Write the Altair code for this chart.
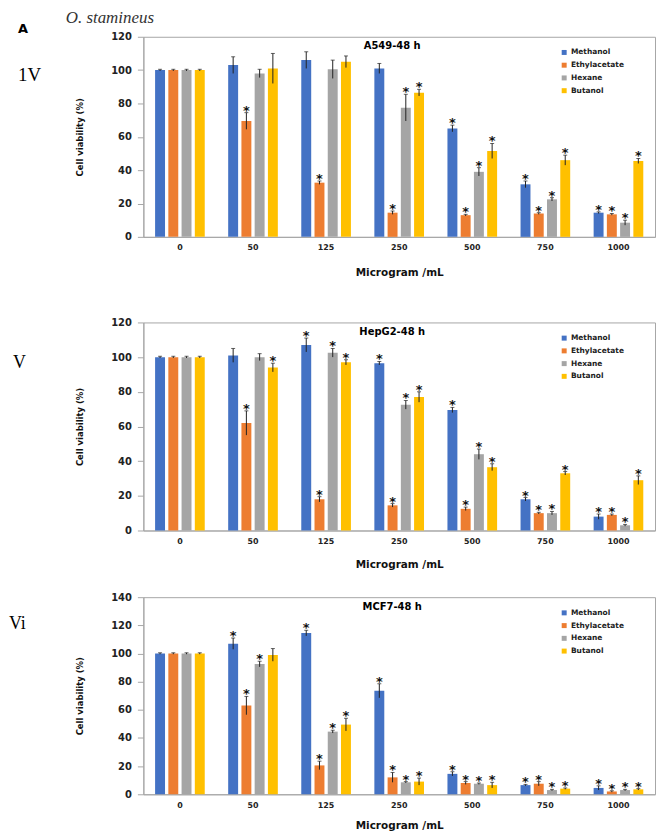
import altair as alt
import pandas as pd

concs = ["0", "50", "125", "250", "500", "750", "1000"]
solvents = ["Methanol", "Ethylacetate", "Hexane", "Butanol"]
colors = ["#4472C4", "#ED7D31", "#A5A5A5", "#FFC000"]

# ---- A549-48 h ----
a549_methanol = [100, 103, 106, 101, 65, 31.5, 14.5]
a549_ethyl = [100, 69.5, 32.5, 14.5, 13, 14, 13.5]
a549_hexane = [100, 98, 100.5, 77.5, 39, 22.5, 8.5]
a549_butanol = [100, 101, 105, 86.5, 51.5, 46, 45.5]
a549_err_methanol = [0.5, 5, 5, 3, 2, 2, 0.5]
a549_err_ethyl = [0.5, 5, 1, 1, 0.5, 0.5, 0.5]
a549_err_hexane = [0.5, 2.5, 5.5, 8, 2.5, 1, 1.5]
a549_err_butanol = [0.5, 9, 3.5, 2, 4.5, 3, 1.5]
a549_star_methanol = [0, 0, 0, 0, 1, 1, 1]
a549_star_ethyl = [0, 1, 1, 1, 1, 1, 1]
a549_star_hexane = [0, 0, 0, 1, 1, 1, 1]
a549_star_butanol = [0, 0, 0, 1, 1, 1, 1]

# ---- HepG2-48 h ----
hepg2_methanol = [100, 101, 107, 96.5, 69.5, 18, 8]
hepg2_ethyl = [100, 62, 18, 14.5, 12.5, 10, 9]
hepg2_hexane = [100, 100, 102.5, 72.5, 44, 10, 3]
hepg2_butanol = [100, 94, 97, 77, 36.5, 33, 29]
hepg2_err_methanol = [0.5, 4, 4, 1, 1.5, 1, 1.5]
hepg2_err_ethyl = [0.5, 7, 1.5, 1, 1, 0.5, 0.5]
hepg2_err_hexane = [0.5, 2, 2.5, 2.5, 3, 1, 0.5]
hepg2_err_butanol = [0.5, 2.5, 1.5, 3, 2, 1, 2.5]
hepg2_star_methanol = [0, 0, 1, 1, 1, 1, 1]
hepg2_star_ethyl = [0, 1, 1, 1, 1, 1, 1]
hepg2_star_hexane = [0, 0, 1, 1, 1, 1, 1]
hepg2_star_butanol = [0, 1, 1, 1, 1, 1, 1]

# ---- MCF7-48 h ----
mcf7_methanol = [100, 107, 114.5, 73.5, 14.5, 6.5, 4.5]
mcf7_ethyl = [100, 63, 20.5, 12, 8, 7.5, 2]
mcf7_hexane = [100, 92.5, 44.5, 8.5, 7.5, 3, 3]
mcf7_butanol = [100, 99, 49.5, 9, 6.5, 4, 3.5]
mcf7_err_methanol = [0.5, 4, 2, 5, 1.5, 0.5, 1.5]
mcf7_err_ethyl = [0.5, 6.5, 3, 3.5, 1, 1.5, 0.5]
mcf7_err_hexane = [0.5, 2, 1, 0.5, 0.5, 0.5, 0.5]
mcf7_err_butanol = [0.5, 4.5, 4.5, 2.5, 2, 0.5, 0.5]
mcf7_star_methanol = [0, 1, 1, 1, 1, 1, 1]
mcf7_star_ethyl = [0, 1, 1, 1, 1, 1, 1]
mcf7_star_hexane = [0, 1, 1, 1, 1, 1, 1]
mcf7_star_butanol = [0, 0, 1, 1, 1, 1, 1]

GRAY = "#a6a6a6"
SANS = "DejaVu Sans"
SERIF = "Liberation Serif"
W = 514


def make_df(means, errs, stars):
    rows = []
    for s, m, e, st in zip(solvents, means, errs, stars):
        for c, v, ee, ss in zip(concs, m, e, st):
            rows.append({"conc": c, "solvent": s, "value": v,
                         "lo": v - ee, "hi": v + ee, "star": ss})
    return pd.DataFrame(rows)


def txt(t, x, y, size, font=SANS, weight="normal", style="normal",
        align="left", baseline="middle", color="#000"):
    return alt.Chart(pd.DataFrame({"t": [t]})).mark_text(
        font=font, fontSize=size, fontWeight=weight, fontStyle=style,
        align=align, baseline=baseline, color=color
    ).encode(text="t:N", x=alt.value(x), y=alt.value(y))


def panel(df, title, ymax, height, extras, xtitle_pad=14, bottom_ext=None,
          title_y=10):
    xenc = alt.X("conc:N", sort=concs,
                 scale=alt.Scale(paddingInner=0, paddingOuter=0),
                 axis=alt.Axis(title="Microgram /mL", labelAngle=0, ticks=False,
                               tickSize=0, labelPadding=7, labelFont=SANS,
                               labelFontSize=8, labelFontWeight="bold",
                               labelColor="#222", titleFont=SANS,
                               titleFontSize=10.5, titleFontWeight="bold",
                               titleColor="#111", titlePadding=xtitle_pad,
                               domainColor=GRAY))
    xoff = alt.XOffset("solvent:N", sort=solvents,
                       scale=alt.Scale(paddingInner=0.25, paddingOuter=0.885))
    yscale = alt.Scale(domain=[0, ymax], nice=False)
    yaxis = alt.Axis(title="Cell viability (%)",
                     values=list(range(0, ymax + 1, 20)), grid=False,
                     tickSize=6, tickColor=GRAY, domainColor=GRAY,
                     labelPadding=6, labelFont=SANS, labelFontSize=10,
                     labelFontWeight="bold", labelColor="#222",
                     titleFont=SANS, titleFontSize=8.5,
                     titleFontWeight="bold", titleColor="#111",
                     titlePadding=26)
    base = alt.Chart(df).encode(x=xenc, xOffset=xoff)
    bars = base.mark_bar().encode(
        y=alt.Y("value:Q", scale=yscale, axis=yaxis),
        color=alt.Color("solvent:N", sort=solvents,
                        scale=alt.Scale(domain=solvents, range=colors),
                        legend=alt.Legend(title=None, orient="none",
                                          legendX=419, legendY=12,
                                          symbolType="square", symbolSize=25,
                                          symbolStrokeWidth=0,
                                          labelFont=SANS, labelFontSize=7.5,
                                          labelFontWeight="bold",
                                          labelColor="#222", rowPadding=3.8,
                                          labelOffset=3)),
    )
    err = base.mark_rule(color="#222", strokeWidth=1).encode(
        y=alt.Y("lo:Q", scale=yscale, axis=yaxis), y2="hi:Q")
    cap = base.mark_tick(color="#222", thickness=1, size=4).encode(
        y=alt.Y("hi:Q", scale=yscale, axis=yaxis))
    stars = base.transform_filter("datum.star == 1").mark_text(
        text="*", font=SANS, fontSize=13, fontWeight="bold", color="#111",
        baseline="alphabetic", dy=2
    ).encode(y=alt.Y("hi:Q", scale=yscale, axis=yaxis))
    layers = [bars, err, cap, stars,
              txt(title, 250, title_y, 10, weight="bold", align="center")]
    layers += extras
    if bottom_ext is not None:
        layers.append(alt.Chart(pd.DataFrame({"t": [0]})).mark_rule(
            strokeOpacity=0).encode(x=alt.value(0), x2=alt.value(1),
                                    y=alt.value(bottom_ext),
                                    y2=alt.value(bottom_ext)))
    return alt.layer(*layers).properties(width=W, height=height)


p1 = panel(make_df([a549_methanol, a549_ethyl, a549_hexane, a549_butanol],
                   [a549_err_methanol, a549_err_ethyl, a549_err_hexane, a549_err_butanol],
                   [a549_star_methanol, a549_star_ethyl, a549_star_hexane, a549_star_butanol]),
           "A549-48 h", 120, 201,
           [txt("O. stamineus", -78, -27, 17, font=SERIF, style="italic",
                baseline="top", color="#333"),
            txt("A", -126, -8, 13, weight="bold"),
            txt("1V", -126, 38, 19, font=SERIF)],
           xtitle_pad=16, bottom_ext=259, title_y=9)
p2 = panel(make_df([hepg2_methanol, hepg2_ethyl, hepg2_hexane, hepg2_butanol],
                   [hepg2_err_methanol, hepg2_err_ethyl, hepg2_err_hexane, hepg2_err_butanol],
                   [hepg2_star_methanol, hepg2_star_ethyl, hepg2_star_hexane, hepg2_star_butanol]),
           "HepG2-48 h", 120, 209,
           [txt("V", -131, 41, 18, font=SERIF)])
p3 = panel(make_df([mcf7_methanol, mcf7_ethyl, mcf7_hexane, mcf7_butanol],
                   [mcf7_err_methanol, mcf7_err_ethyl, mcf7_err_hexane, mcf7_err_butanol],
                   [mcf7_star_methanol, mcf7_star_ethyl, mcf7_star_hexane, mcf7_star_butanol]),
           "MCF7-48 h", 140, 198,
           [txt("Vi", -135, 27, 18, font=SERIF)], xtitle_pad=11)

chart = alt.vconcat(p1, p2, p3, spacing=21).resolve_scale(
    x="independent", y="independent"
).resolve_legend(color="independent").properties(
    padding={"top": -2, "left": 0, "right": 0, "bottom": 0},
    background="white"
).configure_view(stroke=GRAY, strokeWidth=1)

chart.save("out.html", embed_options={"renderer": "svg", "actions": False})
